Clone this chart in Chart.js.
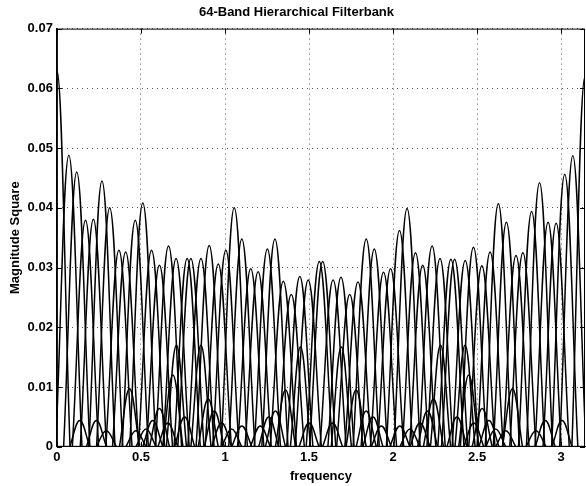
<!DOCTYPE html>
<html>
<head>
<meta charset="utf-8">
<title>64-Band Hierarchical Filterbank</title>
<script src="https://cdn.jsdelivr.net/npm/chart.js@4.4.1/dist/chart.umd.min.js"></script>
<style>
  html, body { margin: 0; padding: 0; background: #fff; }
</style>
</head>
<body>
<canvas id="bankChart" width="586" height="486"></canvas>
<script>
// main lobe of each band: centre frequency (rad) and peak magnitude square
const bandCenters = [
  0, 0.071, 0.118, 0.170, 0.217, 0.268, 0.314, 0.369, 0.409, 0.466, 0.511,
  0.563, 0.610, 0.664, 0.709, 0.775, 0.797, 0.857, 0.906, 0.960, 1.005,
  1.055, 1.100, 1.153, 1.197, 1.252, 1.297, 1.347, 1.394, 1.445, 1.495,
  1.561, 1.581, 1.643, 1.690, 1.742, 1.791, 1.840, 1.888, 1.943, 1.985,
  2.038, 2.083, 2.133, 2.176, 2.232, 2.279, 2.344, 2.366, 2.429, 2.478,
  2.528, 2.577, 2.626, 2.674, 2.731, 2.772, 2.824, 2.871, 2.922, 2.970,
  3.021, 3.069, 3.1416
];
const bandPeaks = [
  0.0630, 0.0488, 0.0460, 0.0379, 0.0381, 0.0445, 0.0400, 0.0329, 0.0326, 0.0379, 0.0408,
  0.0329, 0.0304, 0.0336, 0.0315, 0.0315, 0.0315, 0.0315, 0.0337, 0.0306, 0.0329,
  0.0400, 0.0348, 0.0298, 0.0293, 0.0331, 0.0348, 0.0277, 0.0255, 0.0285, 0.0279,
  0.0310, 0.0310, 0.0279, 0.0284, 0.0255, 0.0276, 0.0348, 0.0331, 0.0292, 0.0298,
  0.0362, 0.0399, 0.0325, 0.0304, 0.0336, 0.0315, 0.0314, 0.0314, 0.0312, 0.0334,
  0.0303, 0.0326, 0.0407, 0.0376, 0.0320, 0.0325, 0.0394, 0.0442, 0.0376, 0.0374,
  0.0456, 0.0487, 0.0620
];

// sidelobes leaking from neighbouring branches
const sideCenters = [
  0.136, 0.235, 0.294, 0.432, 0.470, 0.530, 0.570, 0.610, 0.660, 0.690, 0.711, 0.760,
  0.857, 0.900, 0.936, 0.980, 1.040, 1.100, 1.210, 1.260, 1.300, 1.360, 1.449, 1.500,
  1.640, 1.692, 1.780, 1.840, 1.880, 1.930, 2.040, 2.100, 2.160, 2.205, 2.240, 2.282,
  2.380, 2.428, 2.450, 2.480, 2.530, 2.570, 2.610, 2.670, 2.710, 2.850, 2.905, 3.005
];
const sidePeaks = [
  0.0044, 0.0044, 0.0027, 0.0097, 0.0027, 0.0030, 0.0044, 0.0064, 0.0040, 0.0120, 0.0170, 0.0050,
  0.0170, 0.0080, 0.0060, 0.0040, 0.0030, 0.0035, 0.0035, 0.0050, 0.0060, 0.0095, 0.0167, 0.0040,
  0.0040, 0.0167, 0.0095, 0.0060, 0.0050, 0.0035, 0.0035, 0.0030, 0.0040, 0.0060, 0.0080, 0.0170,
  0.0050, 0.0170, 0.0120, 0.0040, 0.0064, 0.0044, 0.0030, 0.0027, 0.0097, 0.0027, 0.0044, 0.0044
];

const xTicks = [0, 0.5, 1, 1.5, 2, 2.5, 3];
const yTicks = [0, 0.01, 0.02, 0.03, 0.04, 0.05, 0.06, 0.07];

const lobeHalfWidth = 0.078;
const sideHalfWidth = 0.06;

const FONT = "'Liberation Sans', Arial, Helvetica, sans-serif";

function lobe(center, peak, half) {
  return {
    data: [
      { x: center - half, y: 0 },
      { x: center, y: peak },
      { x: center + half, y: 0 }
    ],
    borderColor: '#000',
    borderWidth: 1.5,
    pointRadius: 0,
    tension: 0.4,
    fill: false
  };
}

const datasets = [];
bandCenters.forEach((c, i) => datasets.push(lobe(c, bandPeaks[i], lobeHalfWidth)));
sideCenters.forEach((c, i) => datasets.push(lobe(c, sidePeaks[i], sideHalfWidth)));

// box round the axes with short inward tick marks on all four sides
const frameTicks = {
  id: 'frameTicks',
  afterDatasetsDraw(chart) {
    const { ctx, chartArea: a, scales: { x, y } } = chart;
    ctx.save();
    ctx.strokeStyle = '#000';
    ctx.lineWidth = 1;
    ctx.strokeRect(a.left + 0.5, a.top + 0.5, a.right - a.left - 1, a.bottom - a.top - 1);
    ctx.beginPath();
    xTicks.forEach(v => {
      const px = Math.round(x.getPixelForValue(v)) + 0.5;
      ctx.moveTo(px, a.bottom); ctx.lineTo(px, a.bottom - 5);
      ctx.moveTo(px, a.top); ctx.lineTo(px, a.top + 5);
    });
    yTicks.forEach(v => {
      const py = Math.round(y.getPixelForValue(v)) + 0.5;
      ctx.moveTo(a.left, py); ctx.lineTo(a.left + 5, py);
      ctx.moveTo(a.right, py); ctx.lineTo(a.right - 5, py);
    });
    ctx.stroke();
    ctx.restore();
  }
};

const ctx = document.getElementById('bankChart').getContext('2d');
const bankChart = new Chart(ctx, {
  type: 'line',
  data: { datasets: datasets },
  options: {
    responsive: false,
    animation: false,
    events: [],
    layout: { padding: { left: 8, right: 1, top: 0, bottom: 2 } },
    plugins: {
      legend: { display: false },
      tooltip: { enabled: false },
      title: {
        display: true,
        text: '64-Band Hierarchical Filterbank',
        color: '#000',
        font: { family: FONT, size: 13, weight: 'bold' },
        padding: { top: 5, bottom: 8 }
      }
    },
    scales: {
      x: {
        type: 'linear',
        min: 0,
        max: Math.PI,
        afterBuildTicks: (scale) => { scale.ticks = xTicks.map(v => ({ value: v })); },
        ticks: {
          color: '#000',
          font: { family: FONT, size: 13, weight: 'bold' },
          padding: 3,
          maxRotation: 0,
          callback: (v) => String(v)
        },
        grid: { color: '#555', lineWidth: 1, drawTicks: false },
        border: { display: true, color: '#000', dash: [1, 4] },
        title: {
          display: true,
          text: 'frequency',
          color: '#000',
          font: { family: FONT, size: 13, weight: 'bold' },
          padding: { top: 0, bottom: 0 }
        }
      },
      y: {
        type: 'linear',
        min: 0,
        max: 0.07,
        afterBuildTicks: (scale) => { scale.ticks = yTicks.map(v => ({ value: v })); },
        ticks: {
          color: '#000',
          font: { family: FONT, size: 13, weight: 'bold' },
          padding: 4,
          callback: (v) => String(v)
        },
        grid: { color: '#555', lineWidth: 1, drawTicks: false },
        border: { display: true, color: '#000', dash: [1, 4] },
        title: {
          display: true,
          text: 'Magnitude Square',
          color: '#000',
          font: { family: FONT, size: 13, weight: 'bold' },
          padding: { top: 0, bottom: 0 }
        }
      }
    }
  },
  plugins: [frameTicks]
});
</script>
</body>
</html>
